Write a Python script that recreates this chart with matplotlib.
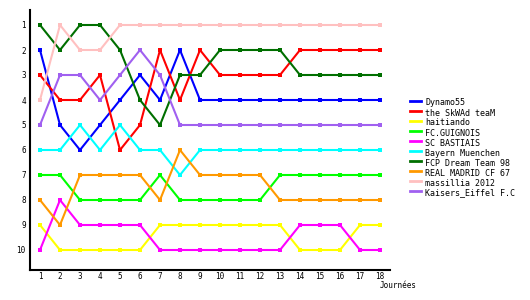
import matplotlib
matplotlib.use("Agg")
import matplotlib.pyplot as plt
from matplotlib.lines import Line2D

journees = list(range(1, 19))
teams = ["Dynamo55", "the SkWAd teaM", "haitiando", "FC.GUIGNOIS", "SC BASTIAIS",
         "Bayern Muenchen", "FCP Dream Team 98", "REAL MADRID CF 67", "massillia 2012",
         "Kaisers_Eiffel F.C"]
colors = ["#0000FF", "#FF0000", "#FFFF00", "#00FF00", "#FF00FF",
          "#00FFFF", "#006F00", "#FF9900", "#FFC0C0", "#A060F0"]

dynamo55 = [2, 5, 6, 5, 4, 3, 4, 2, 4, 4, 4, 4, 4, 4, 4, 4, 4, 4]
skwad = [3, 4, 4, 3, 6, 5, 2, 4, 2, 3, 3, 3, 3, 2, 2, 2, 2, 2]
haitiando = [9, 10, 10, 10, 10, 10, 9, 9, 9, 9, 9, 9, 9, 10, 10, 10, 9, 9]
guignois = [7, 7, 8, 8, 8, 8, 7, 8, 8, 8, 8, 8, 7, 7, 7, 7, 7, 7]
bastiais = [10, 8, 9, 9, 9, 9, 10, 10, 10, 10, 10, 10, 10, 9, 9, 9, 10, 10]
bayern = [6, 6, 5, 6, 5, 6, 6, 7, 6, 6, 6, 6, 6, 6, 6, 6, 6, 6]
fcp = [1, 2, 1, 1, 2, 4, 5, 3, 3, 2, 2, 2, 2, 3, 3, 3, 3, 3]
real = [8, 9, 7, 7, 7, 7, 8, 6, 7, 7, 7, 7, 8, 8, 8, 8, 8, 8]
massillia = [4, 1, 2, 2, 1, 1, 1, 1, 1, 1, 1, 1, 1, 1, 1, 1, 1, 1]
kaisers = [5, 3, 3, 4, 3, 2, 3, 5, 5, 5, 5, 5, 5, 5, 5, 5, 5, 5]
series = [dynamo55, skwad, haitiando, guignois, bastiais, bayern, fcp, real, massillia, kaisers]
y_ticks = list(range(1, 11))

FONT = "DejaVu Sans Mono"
W, H = 530, 300
fig = plt.figure(figsize=(W / 100, H / 100), dpi=100)
ax = fig.add_axes([30 / W, 30 / H, 360 / W, 260 / H])

for vals, c in zip(series, colors):
    ax.plot(journees, vals, color=c, lw=1.5, marker="s", markersize=2.6,
            markeredgewidth=0, solid_joinstyle="miter")

ax.set_xlim(0.5, 18.5)
ax.set_ylim(10.8, 0.4)
ax.set_xticks(journees)
ax.set_xticklabels([str(j) for j in journees], fontfamily=FONT, fontsize=5.5)
ax.set_yticks(y_ticks)
ax.set_yticklabels([str(v) for v in y_ticks], fontfamily=FONT, fontsize=5.5)
ax.tick_params(length=0)
ax.tick_params(axis="y", pad=3)
ax.tick_params(axis="x", pad=1.5)
for s in ["top", "right"]:
    ax.spines[s].set_visible(False)
for s in ["left", "bottom"]:
    ax.spines[s].set_linewidth(1.5)
    ax.spines[s].set_color("black")

fig.text(380 / W, 1 - 286 / H, "Journées", fontfamily=FONT, fontsize=5.5, va="center", ha="left")

# legend
for i, (name, c) in enumerate(zip(teams, colors)):
    y = 1 - (101 + 10 * i) / H
    fig.add_artist(Line2D([410 / W, 421 / W], [y, y], color=c, lw=2, transform=fig.transFigure))
    fig.text(425 / W, 1 - (103 + 10 * i) / H, name, fontfamily=FONT, fontsize=6,
             va="center", ha="left")

fig.savefig("out.png", dpi=100)
